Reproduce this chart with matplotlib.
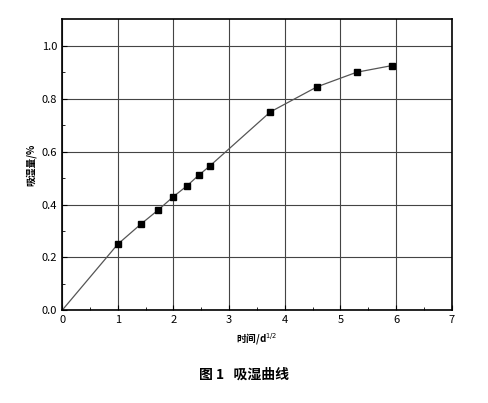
import numpy as np
from matplotlib import pyplot as plt

plt.rcParams['font.family'] = ['Noto Sans CJK SC', 'DejaVu Sans']

# sqrt of time (d^1/2) and moisture uptake (%)
xs = [0, 1.0, 1.41, 1.73, 2.0, 2.24, 2.45, 2.65, 3.74, 4.58, 5.29, 5.92]
ys = [0, 0.25, 0.325, 0.38, 0.43, 0.47, 0.51, 0.545, 0.75, 0.845, 0.9, 0.925]

fig = plt.figure(figsize=(4.89, 4.03), dpi=100)
ax = fig.add_axes([0.127, 0.23, 0.797, 0.722])

ax.plot(xs, ys, color="#555555", linewidth=0.9)
ax.plot(xs[1:], ys[1:], "s", color="black", markersize=5)

ax.set_xlim(0, 7)
ax.set_ylim(0, 1.1)
ax.set_xticks(range(8))
ax.set_yticks(np.arange(0, 1.01, 0.2))
ax.set_yticklabels(["%.1f" % v for v in np.arange(0, 1.01, 0.2)])
ax.set_xticks(np.arange(0.5, 7, 1), minor=True)
ax.set_yticks(np.arange(0.1, 1.1, 0.2), minor=True)
ax.tick_params(direction="in", labelsize=8)
ax.tick_params(which="minor", direction="in", length=2)
ax.grid(color="#444444", linewidth=0.8)
for s in ax.spines.values():
    s.set_linewidth(1.2)

ax.set_xlabel("时间/d$^{1/2}$", fontsize=7, fontweight="bold")
ax.set_ylabel("吸湿量/%", fontsize=7, fontweight="bold")
fig.text(0.5, 0.06, "图 1   吸湿曲线", ha="center", fontsize=10, fontweight="bold")

plt.savefig("out.png")
